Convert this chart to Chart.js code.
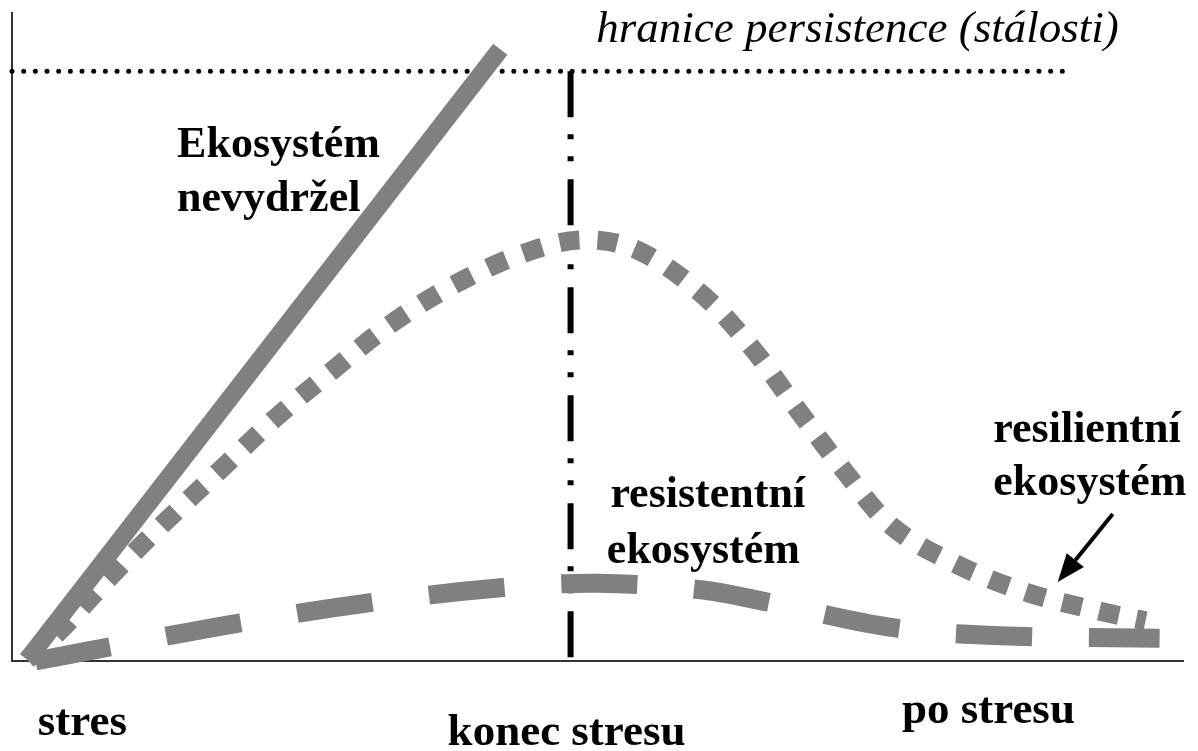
<!doctype html>
<html lang="cs">
<head>
    <meta charset="UTF-8"/>
    <script src="https://cdn.jsdelivr.net/npm/chart.js@4.4.0/dist/chart.umd.min.js"></script>
    <title>Odezva ekosystému na stres</title>
    <style>
        html, body { margin: 0; padding: 0; background: #fff; }
    </style>
</head>
<body>
<canvas id="stressChart" width="1198" height="751"></canvas>

<script>
    // x = time (0 = start of stress, 100 = long after), y = deviation of the ecosystem (0..100)
    const collapseX = [1.3, 41.7];
    const collapseY = [0.2, 94.4];

    const resilientX = [1.3, 3.9, 8.4, 13.1, 17.8, 22.5, 27.4, 32.5, 38.0, 44.0, 48.8, 53.4, 58.8, 63.2, 67.0, 71.0, 75.2, 80.8, 86.8, 93.1, 96.8];
    const resilientY = [0.2, 4.3, 13.0, 21.5, 29.5, 37.5, 44.9, 52.2, 58.3, 63.1, 65.0, 63.4, 56.8, 48.3, 39.0, 29.5, 20.7, 14.8, 10.5, 7.6, 6.2];

    const resistantX = [2.0, 8.4, 19.5, 30.6, 41.7, 50.0, 58.8, 64.5, 75.4, 84.4, 98.0];
    const resistantY = [0.0, 2.2, 5.9, 9.0, 11.3, 12.0, 11.0, 9.1, 5.1, 3.9, 3.5];

    const persistenceLimit = 91.0;   // y of the dotted limit line
    const persistenceEndX = 90.2;
    const stressEndX = 47.7;         // "konec stresu"

    const GRAY = '#808080';

    const toPoints = (xs, ys) => xs.map((x, i) => ({x: x, y: ys[i]}));

    // text labels and the arrow, placed in data units
    const labels = [
        {text: 'hranice persistence (stálosti)', x: 49.9, y: 95.5, italic: true, size: 45},
        {text: 'Ekosystém', x: 14.1, y: 77.8},
        {text: 'nevydržel', x: 14.1, y: 69.4},
        {text: 'resistentní', x: 51.1, y: 23.8},
        {text: 'ekosystém', x: 50.8, y: 15.1},
        {text: 'resilientní', x: 83.8, y: 33.8},
        {text: 'ekosystém', x: 83.8, y: 25.6},
        {text: 'stres', x: 2.2, y: -11.4, size: 45},
        {text: 'konec stresu', x: 37.2, y: -13.0, size: 45},
        {text: 'po stresu', x: 76.0, y: -9.6, size: 45}
    ];
    const arrow = {from: {x: 94.0, y: 22.7}, to: {x: 89.3, y: 12.2}};

    const annotationPlugin = {
        id: 'annotations',
        afterDatasetsDraw(chart) {
            const {ctx, scales: {x, y}} = chart;
            ctx.save();
            ctx.fillStyle = '#000';
            ctx.textBaseline = 'alphabetic';
            ctx.textAlign = 'left';
            labels.forEach((l) => {
                ctx.font = (l.italic ? 'italic ' : 'bold ') + (l.size || 44) + 'px "Liberation Serif", "Times New Roman", serif';
                ctx.fillText(l.text, x.getPixelForValue(l.x), y.getPixelForValue(l.y));
            });

            // arrow pointing at the resilient curve
            const x1 = x.getPixelForValue(arrow.from.x), y1 = y.getPixelForValue(arrow.from.y);
            const x2 = x.getPixelForValue(arrow.to.x), y2 = y.getPixelForValue(arrow.to.y);
            const ang = Math.atan2(y2 - y1, x2 - x1);
            const headLen = 28, headW = 11;
            const bx = x2 - headLen * Math.cos(ang), by = y2 - headLen * Math.sin(ang);
            ctx.strokeStyle = '#000';
            ctx.lineWidth = 4;
            ctx.beginPath();
            ctx.moveTo(x1, y1);
            ctx.lineTo(bx, by);
            ctx.stroke();
            ctx.beginPath();
            ctx.moveTo(x2, y2);
            ctx.lineTo(bx + headW * Math.sin(ang), by - headW * Math.cos(ang));
            ctx.lineTo(bx - headW * Math.sin(ang), by + headW * Math.cos(ang));
            ctx.closePath();
            ctx.fill();
            ctx.restore();
        }
    };

    new Chart(document.getElementById('stressChart'), {
        type: 'line',
        data: {
            datasets: [
                {
                    label: 'Ekosystém nevydržel',
                    data: toPoints(collapseX, collapseY),
                    borderColor: GRAY,
                    borderWidth: 18,
                    borderCapStyle: 'butt',
                    order: 0
                },
                {
                    label: 'resilientní ekosystém',
                    data: toPoints(resilientX, resilientY),
                    borderColor: GRAY,
                    borderWidth: 19,
                    borderDash: [20, 18],
                    borderCapStyle: 'butt',
                    tension: 0.35,
                    order: 1
                },
                {
                    label: 'resistentní ekosystém',
                    data: toPoints(resistantX, resistantY),
                    borderColor: GRAY,
                    borderWidth: 19,
                    borderDash: [76, 57],
                    borderCapStyle: 'butt',
                    tension: 0.35,
                    order: 1
                },
                {
                    label: 'hranice persistence',
                    data: [{x: 0, y: persistenceLimit}, {x: persistenceEndX, y: persistenceLimit}],
                    borderColor: '#000',
                    borderWidth: 5,
                    borderDash: [0.01, 11.66],
                    borderCapStyle: 'round',
                    order: 2
                },
                {
                    label: 'konec stresu',
                    data: [{x: stressEndX, y: persistenceLimit}, {x: stressEndX, y: 0}],
                    borderColor: '#000',
                    borderWidth: 6,
                    borderDash: [46, 17, 5, 17, 5, 18],
                    borderCapStyle: 'butt',
                    order: 2
                }
            ]
        },
        plugins: [annotationPlugin],
        options: {
            responsive: false,
            animation: false,
            clip: false,
            elements: {
                point: {radius: 0, hoverRadius: 0}
            },
            layout: {
                padding: {left: 12, right: 15, top: 13, bottom: 90}
            },
            plugins: {
                legend: {display: false},
                tooltip: {enabled: false}
            },
            scales: {
                x: {
                    type: 'linear',
                    min: 0,
                    max: 100,
                    grid: {display: false, drawTicks: false},
                    ticks: {display: false},
                    border: {display: true, color: '#333', width: 2}
                },
                y: {
                    type: 'linear',
                    min: 0,
                    max: 100,
                    grid: {display: false, drawTicks: false},
                    ticks: {display: false},
                    border: {display: true, color: '#333', width: 2}
                }
            }
        }
    });
</script>
</body>
</html>
